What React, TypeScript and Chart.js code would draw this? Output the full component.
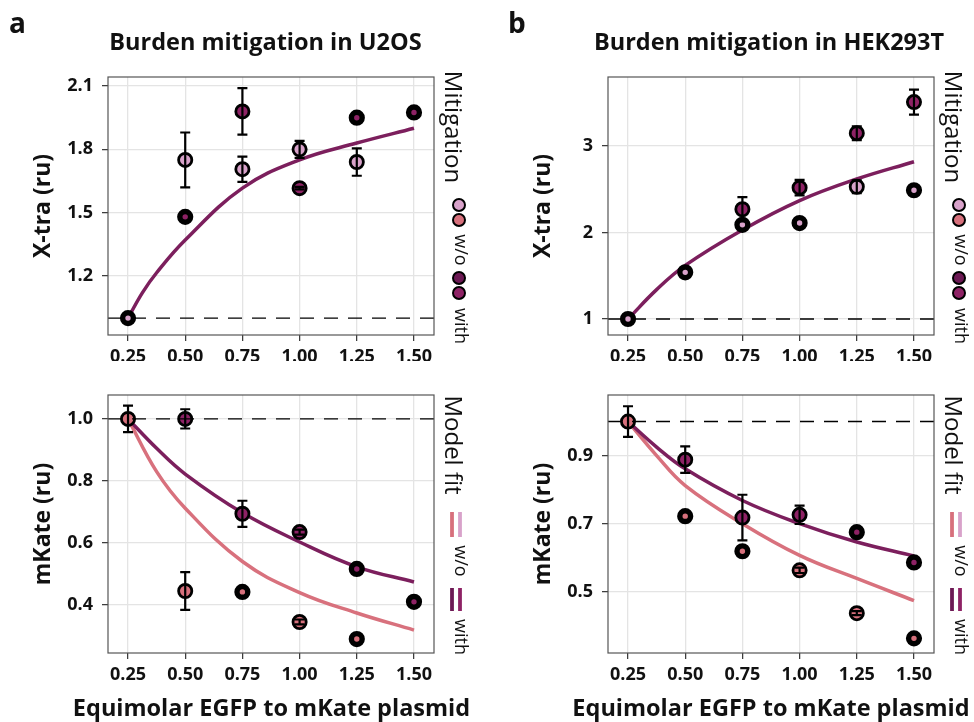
import React, { useEffect, useRef } from "react";
import { Chart, registerables } from "chart.js";

Chart.register(...registerables);

const FONT = "'Open Sans', 'DejaVu Sans', sans-serif";

// ---------- shared axis data ----------
const X_TICKS = [0.25, 0.5, 0.75, 1.0, 1.25, 1.5];
const REF_LEVEL = 1;

// ---------- Panel a (U2OS): X-tra ----------
const A_XTRA_WO_X = [0.25, 0.5, 0.75, 1.0, 1.25];
const A_XTRA_WO_Y = [1.0, 1.75, 1.706, 1.8, 1.74];
const A_XTRA_WO_ERR = [null, 0.13, 0.06, 0.04, 0.065];
const A_XTRA_WITH_X = [0.5, 0.75, 1.0, 1.25, 1.5];
const A_XTRA_WITH_Y = [1.48, 1.98, 1.616, 1.95, 1.975];
const A_XTRA_WITH_ERR = [null, 0.11, 0.006, null, null];
const A_XTRA_FIT_X = [0.25, 0.3125, 0.375, 0.5, 0.75, 1.0, 1.25, 1.5];
const A_XTRA_FIT_Y = [1.0, 1.12, 1.215, 1.37, 1.616, 1.75, 1.83, 1.9];
const A_XTRA_TICKS = [1.2, 1.5, 1.8, 2.1];

// ---------- Panel a (U2OS): mKate ----------
const A_MK_WO_X = [0.25, 0.5, 0.75, 1.0, 1.25];
const A_MK_WO_Y = [1.0, 0.445, 0.442, 0.345, 0.29];
const A_MK_WO_ERR = [0.043, 0.061, null, 0.008, null];
const A_MK_WITH_X = [0.5, 0.75, 1.0, 1.25, 1.5];
const A_MK_WITH_Y = [1.0, 0.694, 0.635, 0.516, 0.41];
const A_MK_WITH_ERR = [0.031, 0.042, 0.008, null, null];
const A_MK_FIT_X = [0.25, 0.375, 0.5, 0.75, 1.0, 1.25, 1.5];
const A_MK_FIT_WO_Y = [1.0, 0.83, 0.712, 0.54, 0.44, 0.374, 0.319];
const A_MK_FIT_WITH_Y = [1.0, 0.905, 0.822, 0.697, 0.603, 0.523, 0.474];
const A_MK_TICKS = [0.4, 0.6, 0.8, 1.0];

// ---------- Panel b (HEK293T): X-tra ----------
const B_XTRA_WO_X = [0.25, 0.5, 0.75, 1.0, 1.25, 1.5];
const B_XTRA_WO_Y = [1.0, 1.54, 2.09, 2.11, 2.53, 2.49];
const B_XTRA_WO_ERR = [null, null, null, null, 0.075, null];
const B_XTRA_WITH_X = [0.75, 1.0, 1.25, 1.5];
const B_XTRA_WITH_Y = [2.27, 2.52, 3.15, 3.51];
const B_XTRA_WITH_ERR = [0.14, 0.09, 0.08, 0.145];
const B_XTRA_FIT_X = [0.25, 0.375, 0.5, 0.75, 1.0, 1.25, 1.5];
const B_XTRA_FIT_Y = [1.0, 1.34, 1.62, 2.03, 2.37, 2.62, 2.82];
const B_XTRA_TICKS = [1, 2, 3];

// ---------- Panel b (HEK293T): mKate ----------
const B_MK_WO_X = [0.25, 0.5, 0.75, 1.0, 1.25, 1.5];
const B_MK_WO_Y = [1.0, 0.722, 0.619, 0.563, 0.437, 0.363];
const B_MK_WO_ERR = [0.045, null, null, 0.008, 0.006, null];
const B_MK_WITH_X = [0.5, 0.75, 1.0, 1.25, 1.5];
const B_MK_WITH_Y = [0.888, 0.718, 0.726, 0.675, 0.586];
const B_MK_WITH_ERR = [0.039, 0.067, 0.027, null, null];
const B_MK_FIT_X = [0.25, 0.375, 0.5, 0.75, 1.0, 1.25, 1.5];
const B_MK_FIT_WO_Y = [1.0, 0.9, 0.812, 0.7, 0.607, 0.539, 0.474];
const B_MK_FIT_WITH_Y = [1.0, 0.925, 0.861, 0.768, 0.7, 0.646, 0.605];
const B_MK_TICKS = [0.5, 0.7, 0.9];

const COLORS = {
  lightPink: "#d8a2ca",
  salmon: "#d7707c",
  darkPurple: "#6c1954",
  magenta: "#8e2265",
  fitDark: "#7c1f5d",
  fitLight: "#d8717d",
};

const X_MIN = 0.1625;
const X_MAX = 1.5875;

type Err = number | null;

function pts(xs: number[], ys: number[]) {
  return xs.map((x, i) => ({ x, y: ys[i] }));
}

function pointSeries(label: string, xs: number[], ys: number[], errs: Err[], color: string) {
  return {
    type: "scatter",
    label,
    data: pts(xs, ys),
    errors: errs,
    backgroundColor: color,
    borderColor: "#000",
    pointRadius: (c: any) => (errs[c.dataIndex] == null ? 5.4 : 6.6),
    pointBorderWidth: (c: any) => (errs[c.dataIndex] == null ? 5.4 : 2.8),
    pointHoverRadius: 0,
    order: 1,
    clip: false,
  };
}

function fitSeries(label: string, xs: number[], ys: number[], color: string) {
  return {
    type: "line",
    label,
    data: pts(xs, ys),
    borderColor: color,
    borderWidth: 3.5,
    pointRadius: 0,
    pointHoverRadius: 0,
    tension: 0.4,
    fill: false,
    order: 2,
  };
}

function drawText(ctx: CanvasRenderingContext2D, t: any) {
  ctx.save();
  ctx.font = `${t.weight || "normal"} ${t.size}px ${FONT}`;
  ctx.fillStyle = t.color || "#111";
  ctx.textAlign = t.align || "center";
  ctx.textBaseline = "alphabetic";
  ctx.translate(t.x, t.y);
  if (t.angle) ctx.rotate((t.angle * Math.PI) / 180);
  ctx.fillText(t.t, 0, 0);
  ctx.restore();
}

const decorPlugin = {
  id: "decor",
  afterDatasetsDraw(chart: any) {
    const ctx = chart.ctx as CanvasRenderingContext2D;
    const { left, right, top, bottom } = chart.chartArea;
    const xs = chart.scales.x;
    const ys = chart.scales.y;
    ctx.save();
    chart.data.datasets.forEach((ds: any) => {
      if (!ds.errors) return;
      ds.data.forEach((p: any, i: number) => {
        const e = ds.errors[i];
        if (e == null) return;
        const px = xs.getPixelForValue(p.x);
        const y1 = ys.getPixelForValue(p.y + e);
        const y2 = ys.getPixelForValue(p.y - e);
        ctx.strokeStyle = "#000";
        ctx.lineWidth = 2.2;
        ctx.beginPath();
        ctx.moveTo(px, y1);
        ctx.lineTo(px, y2);
        ctx.moveTo(px - 5, y1);
        ctx.lineTo(px + 5, y1);
        ctx.moveTo(px - 5, y2);
        ctx.lineTo(px + 5, y2);
        ctx.stroke();
      });
    });
    const yr = ys.getPixelForValue(REF_LEVEL);
    ctx.setLineDash([14, 10]);
    ctx.lineWidth = 1.4;
    ctx.strokeStyle = "#000";
    ctx.beginPath();
    ctx.moveTo(left, yr);
    ctx.lineTo(right, yr);
    ctx.stroke();
    ctx.setLineDash([]);
    ctx.strokeStyle = "#555";
    ctx.lineWidth = 1.2;
    ctx.strokeRect(left, top, right - left, bottom - top);
    ctx.restore();
  },
  afterDraw(chart: any, _args: any, opts: any) {
    const ctx = chart.ctx as CanvasRenderingContext2D;
    (opts.texts || []).forEach((t: any) => drawText(ctx, t));
    (opts.circles || []).forEach((c: any) => {
      ctx.save();
      ctx.beginPath();
      ctx.arc(c.x, c.y, 6, 0, Math.PI * 2);
      ctx.fillStyle = c.c;
      ctx.fill();
      ctx.lineWidth = 2;
      ctx.strokeStyle = "#000";
      ctx.stroke();
      ctx.restore();
    });
    (opts.bars || []).forEach((b: any) => {
      ctx.save();
      ctx.strokeStyle = b.c;
      ctx.lineWidth = 3.8;
      ctx.beginPath();
      ctx.moveTo(b.x, b.y1);
      ctx.lineTo(b.x, b.y2);
      ctx.stroke();
      ctx.restore();
    });
  },
};

function makeConfig(p: any) {
  const tickFont = { family: FONT, size: 18, weight: "bold" as const };
  return {
    type: "scatter",
    data: { datasets: p.datasets },
    options: {
      responsive: false,
      animation: false,
      devicePixelRatio: 1,
      events: [],
      layout: { padding: p.padding },
      plugins: {
        legend: { display: false },
        tooltip: { enabled: false },
        decor: p.decor,
      },
      scales: {
        x: {
          type: "linear",
          min: X_MIN,
          max: X_MAX,
          afterBuildTicks: (s: any) => {
            s.ticks = X_TICKS.map((v) => ({ value: v }));
          },
          afterFit: (s: any) => {
            s.height = p.xHeight;
          },
          grid: { color: "#e4e4e4", lineWidth: 1.3, tickColor: "#333", tickLength: 6, tickWidth: 1.2 },
          border: { display: false },
          ticks: {
            font: tickFont,
            color: "#111",
            padding: 5,
            maxRotation: 0,
            callback: (v: any) => Number(v).toFixed(2),
          },
        },
        y: {
          type: "linear",
          min: p.yMin,
          max: p.yMax,
          afterBuildTicks: (s: any) => {
            s.ticks = p.yTicks.map((v: number) => ({ value: v }));
          },
          afterFit: (s: any) => {
            s.width = p.yWidth;
          },
          grid: { color: "#e4e4e4", lineWidth: 1.3, tickColor: "#333", tickLength: 6, tickWidth: 1.2 },
          border: { display: false },
          ticks: {
            font: tickFont,
            color: "#111",
            padding: 9,
            callback: (v: any) => Number(v).toFixed(p.yDigits),
          },
        },
      },
    },
    plugins: [decorPlugin],
  };
}

function topLegend(dx: number) {
  return {
    texts: [
      { t: "Mitigation", x: 445 + dx, y: 127, size: 24, angle: 90 },
      { t: "w/o", x: 455 + dx, y: 250, size: 18, angle: 90 },
      { t: "with", x: 455 + dx, y: 326, size: 18, angle: 90 },
    ],
    circles: [
      { x: 459 + dx, y: 205, c: COLORS.lightPink },
      { x: 459 + dx, y: 220, c: COLORS.salmon },
      { x: 459 + dx, y: 278, c: COLORS.darkPurple },
      { x: 459 + dx, y: 293, c: COLORS.magenta },
    ],
  };
}

function bottomLegend(dx: number) {
  return {
    texts: [
      { t: "Model fit", x: 445 + dx, y: 84, size: 24, angle: 90 },
      { t: "w/o", x: 455 + dx, y: 200, size: 18, angle: 90 },
      { t: "with", x: 455 + dx, y: 276, size: 18, angle: 90 },
    ],
    bars: [
      { x: 452 + dx, y1: 151, y2: 176, c: COLORS.salmon },
      { x: 460 + dx, y1: 151, y2: 176, c: COLORS.lightPink },
      { x: 452 + dx, y1: 227, y2: 250, c: COLORS.darkPurple },
      { x: 460 + dx, y1: 227, y2: 250, c: COLORS.magenta },
    ],
  };
}

function cfgTL() {
  const lg = topLegend(0);
  return makeConfig({
    datasets: [
      pointSeries("with", A_XTRA_WITH_X, A_XTRA_WITH_Y, A_XTRA_WITH_ERR, COLORS.magenta),
      pointSeries("w/o", A_XTRA_WO_X, A_XTRA_WO_Y, A_XTRA_WO_ERR, COLORS.lightPink),
      fitSeries("fit", A_XTRA_FIT_X, A_XTRA_FIT_Y, COLORS.fitDark),
    ],
    padding: { left: 0, top: 77, right: 53, bottom: 0 },
    xHeight: 26,
    yWidth: 108,
    yMin: 0.92,
    yMax: 2.143,
    yTicks: A_XTRA_TICKS,
    yDigits: 1,
    decor: {
      texts: [
        { t: "a", x: 9, y: 33, size: 28, weight: "bold", align: "left" },
        { t: "Burden mitigation in U2OS", x: 265.5, y: 50, size: 23.5, weight: "bold" },
        { t: "X-tra (ru)", x: 50, y: 206, size: 23, weight: "bold", angle: -90 },
        ...lg.texts,
      ],
      circles: lg.circles,
    },
  });
}

function cfgBL() {
  const lg = bottomLegend(0);
  return makeConfig({
    datasets: [
      pointSeries("with", A_MK_WITH_X, A_MK_WITH_Y, A_MK_WITH_ERR, COLORS.magenta),
      pointSeries("w/o", A_MK_WO_X, A_MK_WO_Y, A_MK_WO_ERR, COLORS.salmon),
      fitSeries("fit with", A_MK_FIT_X, A_MK_FIT_WITH_Y, COLORS.fitDark),
      fitSeries("fit w/o", A_MK_FIT_X, A_MK_FIT_WO_Y, COLORS.fitLight),
    ],
    padding: { left: 0, top: 34, right: 53, bottom: 0 },
    xHeight: 69,
    yWidth: 108,
    yMin: 0.245,
    yMax: 1.077,
    yTicks: A_MK_TICKS,
    yDigits: 1,
    decor: {
      texts: [
        { t: "mKate (ru)", x: 50, y: 163, size: 23, weight: "bold", angle: -90 },
        { t: "Equimolar EGFP to mKate plasmid", x: 271.5, y: 355, size: 23.5, weight: "bold" },
        ...lg.texts,
      ],
      bars: lg.bars,
    },
  });
}

function cfgTR() {
  const lg = topLegend(13);
  return makeConfig({
    datasets: [
      pointSeries("with", B_XTRA_WITH_X, B_XTRA_WITH_Y, B_XTRA_WITH_ERR, COLORS.magenta),
      pointSeries("w/o", B_XTRA_WO_X, B_XTRA_WO_Y, B_XTRA_WO_ERR, COLORS.lightPink),
      fitSeries("fit", B_XTRA_FIT_X, B_XTRA_FIT_Y, COLORS.fitDark),
    ],
    padding: { left: 0, top: 77, right: 40, bottom: 0 },
    xHeight: 26,
    yWidth: 121,
    yMin: 0.815,
    yMax: 3.8,
    yTicks: B_XTRA_TICKS,
    yDigits: 0,
    decor: {
      texts: [
        { t: "b", x: 21, y: 33, size: 28, weight: "bold", align: "left" },
        { t: "Burden mitigation in HEK293T", x: 282, y: 50, size: 23.5, weight: "bold" },
        { t: "X-tra (ru)", x: 63, y: 206, size: 23, weight: "bold", angle: -90 },
        ...lg.texts,
      ],
      circles: lg.circles,
    },
  });
}

function cfgBR() {
  const lg = bottomLegend(13);
  return makeConfig({
    datasets: [
      pointSeries("with", B_MK_WITH_X, B_MK_WITH_Y, B_MK_WITH_ERR, COLORS.magenta),
      pointSeries("w/o", B_MK_WO_X, B_MK_WO_Y, B_MK_WO_ERR, COLORS.salmon),
      fitSeries("fit with", B_MK_FIT_X, B_MK_FIT_WITH_Y, COLORS.fitDark),
      fitSeries("fit w/o", B_MK_FIT_X, B_MK_FIT_WO_Y, COLORS.fitLight),
    ],
    padding: { left: 0, top: 34, right: 40, bottom: 0 },
    xHeight: 69,
    yWidth: 121,
    yMin: 0.32,
    yMax: 1.078,
    yTicks: B_MK_TICKS,
    yDigits: 1,
    decor: {
      texts: [
        { t: "mKate (ru)", x: 63, y: 163, size: 23, weight: "bold", angle: -90 },
        { t: "Equimolar EGFP to mKate plasmid", x: 284, y: 355, size: 23.5, weight: "bold" },
        ...lg.texts,
      ],
      bars: lg.bars,
    },
  });
}

export default function App() {
  const r1 = useRef<HTMLCanvasElement>(null);
  const r2 = useRef<HTMLCanvasElement>(null);
  const r3 = useRef<HTMLCanvasElement>(null);
  const r4 = useRef<HTMLCanvasElement>(null);

  useEffect(() => {
    const builders = [cfgTL, cfgBL, cfgTR, cfgBR];
    const refs = [r1, r2, r3, r4];
    const charts = refs.map((r, i) => new Chart(r.current as HTMLCanvasElement, builders[i]() as any));
    return () => charts.forEach((c) => c.destroy());
  }, []);

  const cs = (left: number, top: number): React.CSSProperties => ({
    position: "absolute",
    left,
    top,
    width: 487,
    height: 361,
  });

  return (
    <div style={{ position: "absolute", left: 0, top: 0, width: 974, height: 722, background: "#fff", overflow: "hidden" }}>
      <canvas ref={r1} width={487} height={361} style={cs(0, 0)} />
      <canvas ref={r2} width={487} height={361} style={cs(0, 361)} />
      <canvas ref={r3} width={487} height={361} style={cs(487, 0)} />
      <canvas ref={r4} width={487} height={361} style={cs(487, 361)} />
    </div>
  );
}
